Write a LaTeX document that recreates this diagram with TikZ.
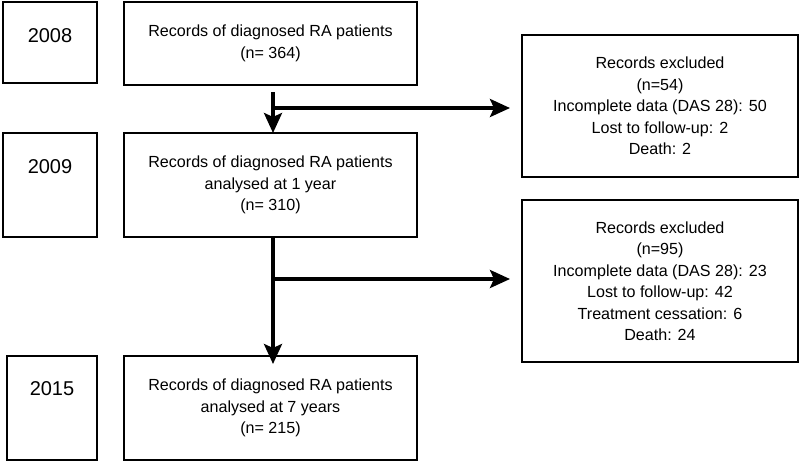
\documentclass[tikz,border=0pt]{standalone}
\usepackage{fontspec}
\setmainfont{Liberation Sans}
\usetikzlibrary{arrows.meta}
\tikzset{
  box/.style={draw=black, line width=1.6pt, inner sep=0pt, outer sep=0pt},
  txt/.style={align=center, font=\fontsize{16.1}{21.5}\selectfont, inner sep=0pt},
  yeartxt/.style={font=\fontsize{20}{24}\selectfont, inner sep=0pt},
  flow/.style={line width=3.6pt, -{Stealth[length=20pt, width=18pt, inset=4pt]}}
}
\begin{document}
\begin{tikzpicture}[x=1pt, y=-1pt]
\useasboundingbox (0,0) rectangle (800,464);
% year boxes
\node[box, minimum width=94pt, minimum height=81pt] (y08) at (50,42.5) {};
\node[box, minimum width=94pt, minimum height=104pt] (y09) at (50,185) {};
\node[box, minimum width=90pt, minimum height=104pt] (y15) at (52,408) {};
\node[yeartxt] (t08) at (50,36) {2008};
\node[yeartxt] (t09) at (50,167) {2009};
\node[yeartxt] (t15) at (52,389) {2015};
% record boxes
\node[box, txt, minimum width=293pt, minimum height=83pt] (r1) at (270.5,43.5) {Records of diagnosed RA patients\\(n= 364)};
\node[box, txt, minimum width=293pt, minimum height=104pt] (r2) at (270.5,185) {Records of diagnosed RA patients\\analysed at 1 year\\(n= 310)};
\node[box, txt, minimum width=293pt, minimum height=104pt] (r3) at (270.5,408) {Records of diagnosed RA patients\\analysed at 7 years\\(n= 215)};
% excluded boxes
\node[box, txt, minimum width=276pt, minimum height=142pt] (e1) at (660,106) {Records excluded\\(n=54)\\Incomplete data (DAS 28): 50\\Lost to follow-up: 2\\Death: 2};
\node[box, txt, minimum width=276pt, minimum height=162pt] (e2) at (660,281) {Records excluded\\(n=95)\\Incomplete data (DAS 28): 23\\Lost to follow-up: 42\\Treatment cessation: 6\\Death: 24};
% connectors
\coordinate (a1s) at (273,92);
\coordinate (a1b) at (273,108);
\coordinate (a2s) at (273,237);
\coordinate (a2b) at (273,279);
\draw[flow] (a1s) -- (a1s |- r2.north);
\draw[flow] (a1b) -- ([xshift=-12pt]e1.west |- a1b);
\draw[flow] (a2s) -- ([yshift=-8pt]a2s |- r3.north);
\draw[flow] (a2b) -- ([xshift=-12pt]e2.west |- a2b);
\end{tikzpicture}
\end{document}
